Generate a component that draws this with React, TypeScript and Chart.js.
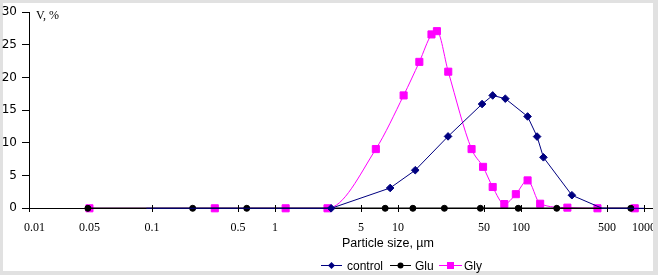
import { useEffect, useRef } from "react";
import { Chart, registerables } from "chart.js";

Chart.register(...registerables);

// ---- data ----
const controlSize = [0.09, 2.86, 8.63, 13.8, 25.5, 48.2, 58.8, 74.5, 113, 135, 152, 259, 456, 1000];
const controlVolume = [0, 0, 3.11, 5.83, 11.0, 15.95, 17.27, 16.77, 14.05, 10.97, 7.8, 2.0, 0, 0];

const gluSize = [0.0301, 0.214, 0.589, 7.86, 13.2, 23.8, 46.7, 94.8, 195, 780];
const gluVolume = [0, 0, 0, 0, 0, 0, 0, 0, 0, 0];

const glySize = [0.031, 0.324, 1.22, 2.67, 6.6, 11.1, 14.9, 18.7, 20.7, 25.6, 39.6, 49.1, 58.8, 73.1, 90.7, 113, 143, 238, 418, 840];
const glyVolume = [0, 0, 0, 0, 9.06, 17.27, 22.4, 26.6, 27.1, 20.9, 9.06, 6.34, 3.26, 0.65, 2.16, 4.27, 0.7, 0.1, 0, 0];

const xTickValues = [0.01, 0.1, 0.5, 1, 5, 10, 50, 100, 500, 1000];
const xLabelTexts = ["0.01", "0.05", "0.1", "0.5", "1", "5", "10", "50", "100", "500", "1000"];
const xLabelValues = [0.01, 0.031, 0.1, 0.5, 1, 5, 10, 50, 100, 500, 1000];

const seriesNames = ["control", "Glu", "Gly"];
const yAxisTitle = "V, %";
const xAxisTitle = "Particle size, µm";

const NAVY = "#000080";
const BLACK = "#000000";
const MAGENTA = "#ff00ff";
const SERIF = "'Liberation Serif', 'Times New Roman', serif";
const SANS = "'Liberation Sans', Arial, sans-serif";

const toPoints = (xs: number[], ys: number[]) => xs.map((x, i) => ({ x, y: ys[i] }));

function drawMarker(ctx: CanvasRenderingContext2D, kind: string, x: number, y: number, color: string) {
  ctx.fillStyle = color;
  ctx.beginPath();
  if (kind === "diamond") {
    ctx.moveTo(x, y - 3.5);
    ctx.lineTo(x + 3.5, y);
    ctx.lineTo(x, y + 3.5);
    ctx.lineTo(x - 3.5, y);
    ctx.closePath();
  } else if (kind === "circle") {
    ctx.arc(x, y, 3, 0, Math.PI * 2);
  } else {
    ctx.rect(x - 3.5, y - 3.5, 7, 7);
  }
  ctx.fill();
}

const decorPlugin = {
  id: "decor",
  beforeDraw(chart: any) {
    const ctx = chart.ctx as CanvasRenderingContext2D;
    ctx.save();
    ctx.fillStyle = "#e1e1e1";
    ctx.fillRect(0, 0, chart.width, chart.height);
    ctx.fillStyle = "#ffffff";
    ctx.fillRect(3, 3, 650, 268);
    ctx.restore();
  },
  afterDatasetsDraw(chart: any) {
    const ctx = chart.ctx as CanvasRenderingContext2D;
    const x = chart.scales.x;
    const y0 = Math.round(chart.chartArea.bottom - 0.5) + 0.5;
    ctx.save();
    ctx.strokeStyle = BLACK;
    ctx.lineWidth = 1;
    ctx.beginPath();
    xTickValues.forEach((v) => {
      const px = Math.round(x.getPixelForValue(v)) + 0.5;
      ctx.moveTo(px, y0 - 3.5);
      ctx.lineTo(px, y0 + 3.5);
    });
    ctx.stroke();
    ctx.restore();
  },
  afterDraw(chart: any) {
    const ctx = chart.ctx as CanvasRenderingContext2D;
    const x = chart.scales.x;
    const area = chart.chartArea;
    ctx.save();
    ctx.beginPath();
    ctx.rect(3, 3, 650, 268);
    ctx.clip();
    ctx.fillStyle = BLACK;
    ctx.textBaseline = "alphabetic";
    ctx.font = `12px ${SERIF}`;
    ctx.textAlign = "center";
    xLabelTexts.forEach((t, i) => {
      let px = x.getPixelForValue(xLabelValues[i]);
      const w = ctx.measureText(t).width;
      if (px - w / 2 < area.left - 5) px = area.left - 5 + w / 2;
      ctx.fillText(t, px, 231);
    });
    ctx.restore();

    ctx.save();
    ctx.fillStyle = BLACK;
    ctx.textBaseline = "alphabetic";
    ctx.textAlign = "left";
    ctx.font = `12px ${SERIF}`;
    ctx.fillText(yAxisTitle, 36, 19);
    ctx.font = `12.5px ${SANS}`;
    ctx.fillText(xAxisTitle, 342, 247);

    // legend
    const items = [
      { name: seriesNames[0], color: NAVY, kind: "diamond", x0: 321, x1: 342, tx: 347 },
      { name: seriesNames[1], color: BLACK, kind: "circle", x0: 390, x1: 411, tx: 415 },
      { name: seriesNames[2], color: MAGENTA, kind: "square", x0: 439, x1: 462, tx: 464 },
    ];
    const ly = 265.5;
    ctx.font = `12px ${SANS}`;
    items.forEach((it) => {
      ctx.strokeStyle = it.color;
      ctx.lineWidth = 1;
      ctx.beginPath();
      ctx.moveTo(it.x0, ly);
      ctx.lineTo(it.x1, ly);
      ctx.stroke();
      drawMarker(ctx, it.kind, (it.x0 + it.x1) / 2, ly, it.color);
      ctx.fillStyle = BLACK;
      ctx.fillText(it.name, it.tx, 270);
    });
    ctx.restore();
  },
};

export default function App() {
  const ref = useRef<HTMLCanvasElement>(null);
  useEffect(() => {
    const canvas = ref.current;
    if (!canvas) return;
    const nControl = controlSize.length;
    const chart = new Chart(canvas, {
      type: "line",
      data: {
        datasets: [
          {
            label: seriesNames[0],
            data: toPoints(controlSize, controlVolume),
            borderColor: NAVY,
            backgroundColor: NAVY,
            borderWidth: 1,
            pointStyle: "rectRot",
            pointRadius: (c: any) => (c.dataIndex === 0 || c.dataIndex >= nControl - 2 ? 0 : 3.8),
            pointBorderWidth: 1,
            pointBorderColor: NAVY,
            pointBackgroundColor: NAVY,
            order: 0,
            clip: false,
          } as any,
          {
            label: seriesNames[1],
            data: toPoints(gluSize, gluVolume),
            borderColor: BLACK,
            backgroundColor: BLACK,
            borderWidth: 1.5,
            pointStyle: "circle",
            pointRadius: 3,
            pointBorderWidth: 1,
            pointBorderColor: BLACK,
            pointBackgroundColor: BLACK,
            order: 1,
            clip: false,
          } as any,
          {
            label: seriesNames[2],
            data: toPoints(glySize, glyVolume),
            borderColor: MAGENTA,
            backgroundColor: MAGENTA,
            borderWidth: 1,
            pointStyle: "rect",
            pointRadius: 5,
            pointBorderWidth: 1,
            pointBorderColor: MAGENTA,
            pointBackgroundColor: MAGENTA,
            cubicInterpolationMode: "monotone",
            order: 2,
            clip: false,
          } as any,
        ],
      },
      options: {
        animation: false,
        responsive: false,
        events: [],
        layout: { padding: { top: 9.6, right: 5, left: 0, bottom: 0 } },
        plugins: { legend: { display: false }, tooltip: { enabled: false } },
        scales: {
          x: {
            type: "logarithmic",
            min: 0.01,
            max: 1160,
            ticks: { display: false },
            grid: { display: false },
            border: { display: true, color: BLACK, width: 1 },
            afterFit: (s: any) => {
              s.height = 275 - 208.3;
            },
          },
          y: {
            min: 0,
            max: 30,
            ticks: {
              stepSize: 5,
              color: BLACK,
              font: { family: "'DejaVu Sans', sans-serif", size: 12 },
              padding: 5,
            },
            grid: { drawOnChartArea: false, drawTicks: true, tickLength: 7, color: BLACK },
            border: { display: true, color: BLACK, width: 1 },
            afterFit: (s: any) => {
              s.width = 29;
            },
          },
        },
      } as any,
      plugins: [decorPlugin as any],
    });
    return () => chart.destroy();
  }, []);
  return (
    <div style={{ position: "fixed", left: 0, top: 0, width: 658, height: 275 }}>
      <canvas ref={ref} width={658} height={275} style={{ display: "block", width: 658, height: 275 }} />
    </div>
  );
}
